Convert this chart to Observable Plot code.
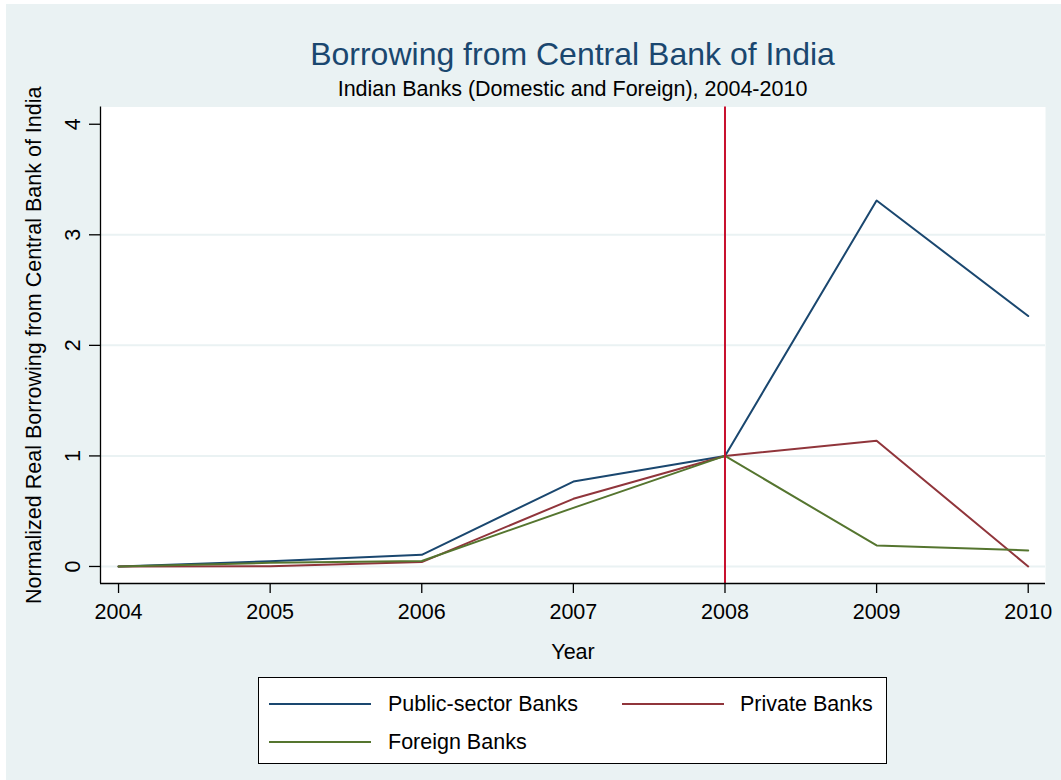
<!DOCTYPE html>
<html>
<head>
<meta charset="utf-8">
<script src="https://cdn.jsdelivr.net/npm/d3@7"></script>
<script src="https://cdn.jsdelivr.net/npm/@observablehq/plot@0.6"></script>
<style>
  html, body { margin: 0; padding: 0; background: #ffffff; }
  #wrap { position: relative; width: 1061px; height: 780px; overflow: hidden; font-family: "Liberation Sans", Arial, sans-serif; }
  #bg { position: absolute; left: 6px; top: 4px; right: 0; bottom: 0; background: #eaf2f3; }
  #chart { position: absolute; left: 0; top: 0; }
  .title { position: absolute; left: 100px; width: 945px; text-align: center; line-height: 1; white-space: nowrap; }
  #legend { position: absolute; left: 258px; top: 677px; width: 627px; height: 85px; background: #ffffff; border: 1.3px solid #000; }
  .key { position: absolute; height: 0; border-top: 2px solid; }
  .lab { position: absolute; font-size: 21.5px; line-height: 1; color: #000; white-space: nowrap; }
</style>
</head>
<body>
<div id="wrap">
  <div id="bg"></div>
  <div id="chart"></div>
  <div class="title" id="t1" style="top:38px;font-size:32px;color:#1a476f;"></div>
  <div class="title" id="t2" style="top:79px;font-size:21.5px;color:#000;"></div>
  <div id="legend"></div>
</div>
<script>
// ---- data ----
const years = [2004, 2005, 2006, 2007, 2008, 2009, 2010];
const publicBanks  = [0, 0.048, 0.105, 0.768, 1.0, 3.31, 2.265];
const privateBanks = [0, 0.002, 0.040, 0.612, 1.0, 1.138, 0.0];
const foreignBanks = [0, 0.033, 0.050, 0.530, 1.0, 0.190, 0.145];
const seriesNames  = ["Public-sector Banks", "Private Banks", "Foreign Banks"];
const seriesColors = ["#1a476f", "#90353b", "#55752f"];
const yTicks = [0, 1, 2, 3, 4];
const gridTicks = [0, 1, 2, 3];
const eventYear = [2008];
const titleText = "Borrowing from Central Bank of India";
const subtitleText = "Indian Banks (Domestic and Foreign), 2004-2010";
const xLabel = "Year";
const yLabel = "Normalized Real Borrowing from Central Bank of India";

// ---- table ----
const seriesValues = [publicBanks, privateBanks, foreignBanks];
const data = [];
seriesNames.forEach((name, i) => {
  years.forEach((yr, j) => data.push({series: name, year: yr, value: seriesValues[i][j]}));
});

const xDomain = [2003.881, 2010.114];
const yDomain = [-0.154, 4.156];
const font = "'Liberation Sans', Arial, sans-serif";

const chart = Plot.plot({
  width: 1061,
  height: 780,
  marginLeft: 100,
  marginRight: 16,
  marginTop: 106.5,
  marginBottom: 197,
  style: {background: "transparent", fontFamily: font, fontSize: "21.5px", color: "#000", overflow: "visible"},
  x: {domain: xDomain},
  y: {domain: yDomain},
  color: {domain: seriesNames, range: seriesColors},
  marks: [
    Plot.frame({fill: "white", stroke: null}),
    Plot.ruleY(gridTicks, {y: d => d, stroke: "#eaf2f3", strokeWidth: 2}),
    Plot.line(data, {x: "year", y: "value", z: "series", stroke: "series", strokeWidth: 2}),
    Plot.ruleX(eventYear, {x: d => d, stroke: "#c8102e", strokeWidth: 2}),
    Plot.ruleX([xDomain[0]], {x: d => d, stroke: "#000", strokeWidth: 1.3}),
    Plot.ruleY([yDomain[0]], {y: d => d, stroke: "#000", strokeWidth: 1.3}),
    Plot.axisY({ticks: yTicks, tickSize: 11, tickFormat: () => "", label: null, stroke: "#000", strokeWidth: 1.3}),
    Plot.axisX({ticks: years, tickSize: 10, tickFormat: () => "", label: null, stroke: "#000", strokeWidth: 1.3}),
    Plot.text(yTicks, {y: d => d, text: d => String(d), frameAnchor: "left", textAnchor: "middle", lineAnchor: "middle", dx: -27, rotate: -90, fontSize: 21.5, fill: "#000"}),
    Plot.text(years, {x: d => d, text: d => String(d), frameAnchor: "bottom", textAnchor: "middle", lineAnchor: "middle", dy: 28.6, fontSize: 21.5, fill: "#000"}),
    Plot.text([xLabel], {text: d => d, frameAnchor: "bottom", textAnchor: "middle", lineAnchor: "middle", dy: 69, fontSize: 21.5, fill: "#000"}),
    Plot.text([yLabel], {text: d => d, frameAnchor: "left", textAnchor: "middle", lineAnchor: "middle", dx: -66, rotate: -90, fontSize: 21.5, fill: "#000"})
  ]
});
document.getElementById("chart").appendChild(chart);

document.getElementById("t1").textContent = titleText;
document.getElementById("t2").textContent = subtitleText;

// ---- legend ----
const legend = document.getElementById("legend");
const slots = [
  {lineX: 10, textX: 129, y: 26},
  {lineX: 363, textX: 481, y: 26},
  {lineX: 10, textX: 129, y: 64}
];
seriesNames.forEach((name, i) => {
  const s = slots[i];
  const key = document.createElement("div");
  key.className = "key";
  key.style.left = s.lineX + "px";
  key.style.width = "102px";
  key.style.top = (s.y - 1) + "px";
  key.style.borderTopColor = seriesColors[i];
  legend.appendChild(key);
  const lab = document.createElement("div");
  lab.className = "lab";
  lab.style.left = s.textX + "px";
  lab.style.top = (s.y - 10.5) + "px";
  lab.textContent = name;
  legend.appendChild(lab);
});
</script>
</body>
</html>
